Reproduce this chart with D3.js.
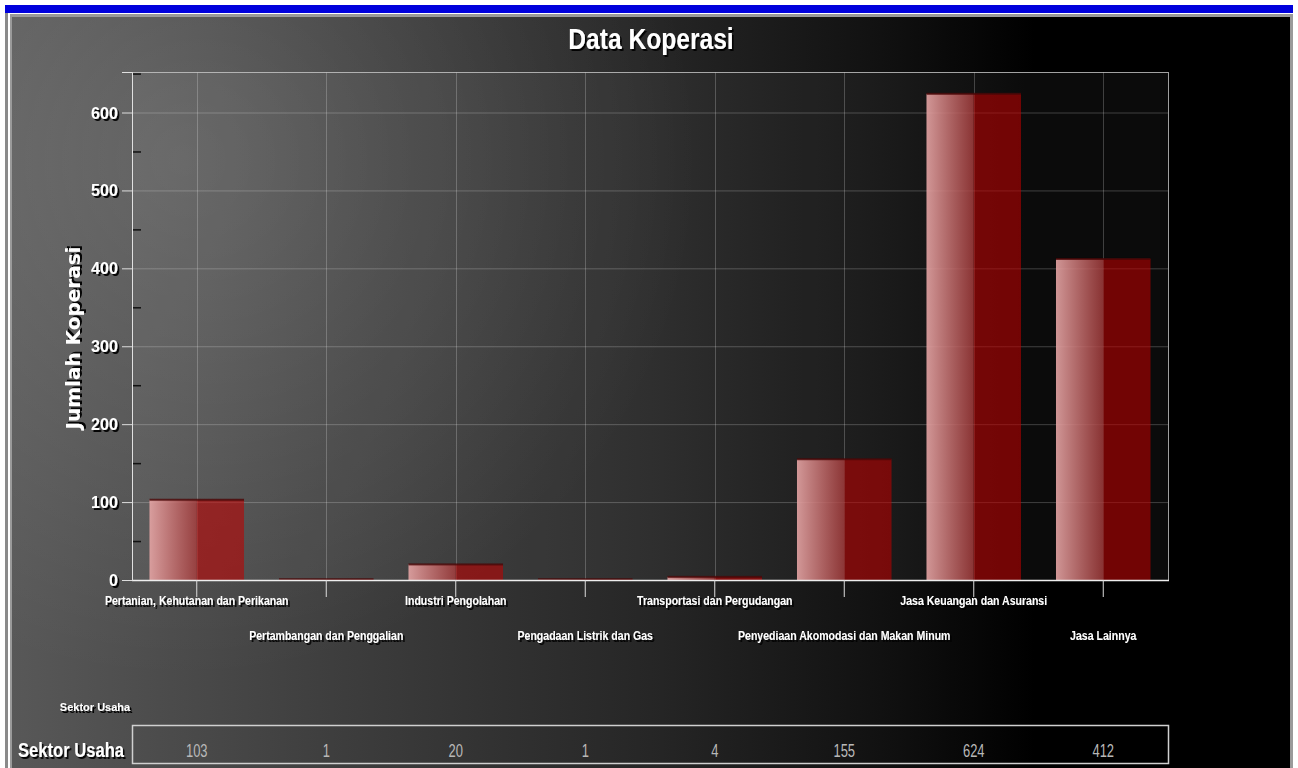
<!DOCTYPE html>
<html>
<head>
<meta charset="utf-8">
<script src="https://cdnjs.cloudflare.com/ajax/libs/d3/7.8.5/d3.min.js"></script>
<style>
  html, body { margin: 0; padding: 0; background: #fff; }
  svg { display: block; }
  text { font-family: "Liberation Sans", Arial, sans-serif; }
  text.wide { font-family: "DejaVu Sans", Verdana, sans-serif; }
</style>
</head>
<body>
<svg id="chart" width="1298" height="768"></svg>
<script>
// chart data
var categories = [
  "Pertanian, Kehutanan dan Perikanan",
  "Pertambangan dan Penggalian",
  "Industri Pengolahan",
  "Pengadaan Listrik dan Gas",
  "Transportasi dan Pergudangan",
  "Penyediaan Akomodasi dan Makan Minum",
  "Jasa Keuangan dan Asuransi",
  "Jasa Lainnya"
];
var values = [103, 1, 20, 1, 4, 155, 624, 412];
var yTicks = [0, 100, 200, 300, 400, 500, 600];
var yMinorTicks = [50, 150, 250, 350, 450, 550, 650];
var title = "Data Koperasi";
var yTitle = "Jumlah Koperasi";
var xTitle = "Sektor Usaha";

var W = 1298, H = 768;
var plot = { left: 132, right: 1168, top: 72, bottom: 580 };

var svg = d3.select("#chart");
var defs = svg.append("defs");

// background gradient, grey at left fading to black
var bg = defs.append("linearGradient").attr("id", "bg").attr("x1", 0).attr("x2", 1).attr("y1", 0).attr("y2", 0);
[[0, "#585858"], [0.25, "#3e3e3e"], [0.5, "#262626"], [0.68, "#111"], [0.8, "#000"], [1, "#000"]].forEach(function(s) {
  bg.append("stop").attr("offset", s[0]).attr("stop-color", s[1]);
});
var glow = defs.append("radialGradient").attr("id", "glow")
  .attr("gradientUnits", "userSpaceOnUse").attr("cx", 180).attr("cy", 160).attr("r", 520);
glow.append("stop").attr("offset", 0).attr("stop-color", "#fff").attr("stop-opacity", 0.14);
glow.append("stop").attr("offset", 1).attr("stop-color", "#fff").attr("stop-opacity", 0);

// light half of each bar
var barLight = defs.append("linearGradient").attr("id", "barLight").attr("x1", 0).attr("x2", 1).attr("y1", 0).attr("y2", 0);
barLight.append("stop").attr("offset", 0).attr("stop-color", "rgb(230,165,165)").attr("stop-opacity", 0.9);
barLight.append("stop").attr("offset", 1).attr("stop-color", "rgb(165,60,60)").attr("stop-opacity", 0.82);

var shadow = defs.append("filter").attr("id", "shadow").attr("x", "-10%").attr("y", "-20%").attr("width", "130%").attr("height", "160%");
shadow.append("feDropShadow").attr("dx", 2).attr("dy", 2).attr("stdDeviation", 0.6)
  .attr("flood-color", "#000").attr("flood-opacity", 0.95);

// condensed look: the narrow font is not installed, so squeeze horizontally
function narrow(sel, px, py, sx) {
  return sel.attr("transform", function(d, i) {
    var tx = typeof px === "function" ? px(d, i) : px;
    var ty = typeof py === "function" ? py(d, i) : py;
    return "translate(" + tx + "," + ty + ") scale(" + sx + ",1)";
  });
}

// page frame
svg.append("rect").attr("x", 5).attr("y", 5).attr("width", 1288).attr("height", 8).attr("fill", "#0000dc");
svg.append("rect").attr("x", 5).attr("y", 13).attr("width", 3).attr("height", H).attr("fill", "#8a8a8a");
svg.append("rect").attr("x", 10).attr("y", 14).attr("width", 1283).attr("height", H).attr("fill", "#9a9a9a");
svg.append("rect").attr("x", 12).attr("y", 17).attr("width", 1278).attr("height", H).attr("fill", "url(#bg)");
svg.append("rect").attr("x", 12).attr("y", 17).attr("width", 1278).attr("height", H).attr("fill", "url(#glow)");

// scales
var x = d3.scaleBand().domain(categories).range([plot.left, plot.right])
  .paddingInner(0.27).paddingOuter(0.135);
var y = d3.scaleLinear().domain([0, 652]).range([plot.bottom, plot.top]);
var cx = function(d) { return x(d) + x.bandwidth() / 2; };

var g = svg.append("g");

g.append("rect")
  .attr("x", plot.left).attr("y", plot.top)
  .attr("width", plot.right - plot.left).attr("height", plot.bottom - plot.top)
  .attr("fill", "#fff").attr("fill-opacity", 0.045);

// grid
g.selectAll(".hgrid").data(yTicks.slice(1)).enter().append("line")
  .attr("x1", plot.left).attr("x2", plot.right)
  .attr("y1", function(d) { return y(d) + 0.5; }).attr("y2", function(d) { return y(d) + 0.5; })
  .attr("stroke", "#fff").attr("stroke-opacity", 0.22);
g.selectAll(".vgrid").data(categories).enter().append("line")
  .attr("x1", function(d) { return Math.round(cx(d)) + 0.5; }).attr("x2", function(d) { return Math.round(cx(d)) + 0.5; })
  .attr("y1", plot.top).attr("y2", plot.bottom)
  .attr("stroke", "#fff").attr("stroke-opacity", 0.22);

// bars
var bars = g.selectAll(".bar").data(values).enter().append("g");
bars.append("rect")
  .attr("x", function(d, i) { return x(categories[i]); })
  .attr("y", function(d) { return y(d); })
  .attr("width", x.bandwidth() / 2)
  .attr("height", function(d) { return y(0) - y(d); })
  .attr("fill", "url(#barLight)");
bars.append("rect")
  .attr("x", function(d, i) { return cx(categories[i]); })
  .attr("y", function(d) { return y(d); })
  .attr("width", x.bandwidth() / 2)
  .attr("height", function(d) { return y(0) - y(d); })
  .attr("fill", "rgb(190,0,0)").attr("fill-opacity", 0.58);
bars.append("rect")
  .attr("x", function(d, i) { return x(categories[i]); })
  .attr("y", function(d) { return y(d) - 1; })
  .attr("width", x.bandwidth())
  .attr("height", 2)
  .attr("fill", "#4a0808").attr("fill-opacity", 0.8);

// plot border
g.append("rect")
  .attr("x", plot.left + 0.5).attr("y", plot.top + 0.5)
  .attr("width", plot.right - plot.left).attr("height", plot.bottom - plot.top)
  .attr("fill", "none").attr("stroke", "#c8c8c8").attr("stroke-opacity", 0.8);
g.append("line")
  .attr("x1", plot.left).attr("x2", plot.right + 1)
  .attr("y1", plot.bottom + 0.5).attr("y2", plot.bottom + 0.5)
  .attr("stroke", "#eee").attr("stroke-width", 1.5);

// y axis
var yAxis = d3.axisLeft(y).tickValues(yTicks).tickSize(10).tickFormat("");
var ya = g.append("g").attr("transform", "translate(" + plot.left + ",0)").call(yAxis);
ya.select(".domain").attr("stroke", "#e0e0e0");
ya.selectAll(".tick line").attr("stroke", "#ddd");
narrow(g.selectAll(".ylab").data(yTicks).enter().append("text"), 118, function(d) { return y(d) + 6; }, 0.95)
  .attr("text-anchor", "end")
  .attr("fill", "#fff").attr("font-size", 17).attr("font-weight", "bold")
  .attr("filter", "url(#shadow)")
  .text(function(d) { return d; });
g.selectAll(".minor").data(yMinorTicks).enter().append("line")
  .attr("x1", plot.left + 1).attr("x2", plot.left + 9)
  .attr("y1", function(d) { return y(d) + 0.5; }).attr("y2", function(d) { return y(d) + 0.5; })
  .attr("stroke", "#111").attr("stroke-width", 1.5);

// x axis
var xAxis = d3.axisBottom(x).tickSize(17).tickFormat("");
var xa = g.append("g").attr("transform", "translate(0," + plot.bottom + ")").call(xAxis);
xa.select(".domain").remove();
xa.selectAll(".tick line").attr("stroke", "#ddd");
narrow(g.selectAll(".xlab").data(categories).enter().append("text"),
    cx, function(d, i) { return i % 2 === 0 ? 605 : 640; }, 0.88)
  .attr("text-anchor", "middle")
  .attr("fill", "#fff").attr("font-size", 12).attr("font-weight", "bold")
  .attr("filter", "url(#shadow)")
  .text(function(d) { return d; });

// titles
narrow(svg.append("text"), 651, 49, 0.82)
  .attr("text-anchor", "middle")
  .attr("fill", "#fff").attr("font-size", 30).attr("font-weight", "bold")
  .attr("filter", "url(#shadow)").text(title);
svg.append("text").attr("class", "wide")
  .attr("transform", "translate(80,338) rotate(-90)").attr("text-anchor", "middle")
  .attr("fill", "#fff").attr("font-size", 20).attr("font-weight", "bold")
  .attr("filter", "url(#shadow)").text(yTitle);
narrow(svg.append("text"), 95, 711, 1)
  .attr("text-anchor", "middle")
  .attr("fill", "#fff").attr("font-size", 11).attr("font-weight", "bold")
  .attr("filter", "url(#shadow)").text(xTitle);

// data table
svg.append("rect")
  .attr("x", plot.left + 0.5).attr("y", 725.5)
  .attr("width", plot.right - plot.left).attr("height", 38)
  .attr("fill", "none").attr("stroke", "#d0d0d0").attr("stroke-width", 1.5);
narrow(svg.append("text"), 71, 757, 0.79)
  .attr("text-anchor", "middle")
  .attr("fill", "#fff").attr("font-size", 21).attr("font-weight", "bold")
  .attr("filter", "url(#shadow)").text(xTitle);
narrow(svg.selectAll(".cell").data(values).enter().append("text"),
    function(d, i) { return cx(categories[i]); }, 757, 0.72)
  .attr("text-anchor", "middle")
  .attr("fill", "#b8b8b8").attr("font-size", 18)
  .text(function(d) { return d; });
</script>
</body>
</html>
